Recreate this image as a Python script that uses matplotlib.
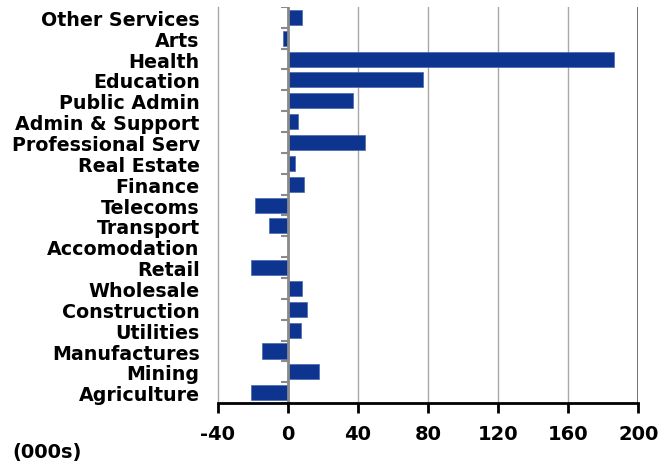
import matplotlib

matplotlib.use("Agg")

import matplotlib.pyplot as plt
import numpy as np

# Change in employment by sector, thousands (bottom to top as drawn)
sectors = [
    "Agriculture", "Mining", "Manufactures", "Utilities", "Construction",
    "Wholesale", "Retail", "Accomodation", "Transport", "Telecoms",
    "Finance", "Real Estate", "Professional Serv", "Admin & Support",
    "Public Admin", "Education", "Health", "Arts", "Other Services",
]
change = [-21, 18, -15, 7.5, 11, 8, -21, 0, -11, -19,
          9, 4, 44, 6, 37, 77, 186, -3, 8]
x_ticks = [-40, 0, 40, 80, 120, 160, 200]

BAR = "#0d3590"

fig = plt.figure(figsize=(6.58, 4.64), dpi=100)
ax = fig.add_axes([0.331, 0.129, 0.639, 0.854])

pos = np.arange(len(sectors))
ax.barh(pos, change, height=0.72, color=BAR, edgecolor="#4a68b0",
        linewidth=0.5, zorder=3)

ax.set_xlim(-40, 200)
ax.set_ylim(-0.5, len(sectors) - 0.5)

# vertical gridlines, darker frame line on the right
for v in x_ticks[1:-1]:
    ax.axvline(v, color="#a8a8a8", lw=1, zorder=1)
ax.axvline(200, color="#5a5a5a", lw=1.2, zorder=1)
ax.axvline(0, color="#8a8a8a", lw=2, zorder=4)

# small category separators on the zero line
bounds = np.arange(len(sectors) + 1) - 0.5
ax.hlines(bounds, -4, 0, color="#8a8a8a", lw=1.5, zorder=4)

for s in ["top", "right"]:
    ax.spines[s].set_visible(False)
ax.spines["left"].set_color("#a8a8a8")
ax.spines["left"].set_linewidth(1)
ax.spines["bottom"].set_color("black")
ax.spines["bottom"].set_linewidth(2)
ax.spines["bottom"].set_zorder(5)

ax.set_yticks(pos)
ax.set_yticklabels(sectors, fontsize=13.7, fontweight="bold")
ax.tick_params(axis="y", length=0, pad=13)

ax.set_xticks(x_ticks)
ax.set_xticklabels([str(t) for t in x_ticks], fontsize=14, fontweight="bold")
ax.tick_params(axis="x", length=7, width=2, direction="out", pad=8)

fig.text(0.019, 0.012, "(000s)", fontsize=14, fontweight="bold")

fig.savefig("out.png", dpi=100)
plt.close(fig)
